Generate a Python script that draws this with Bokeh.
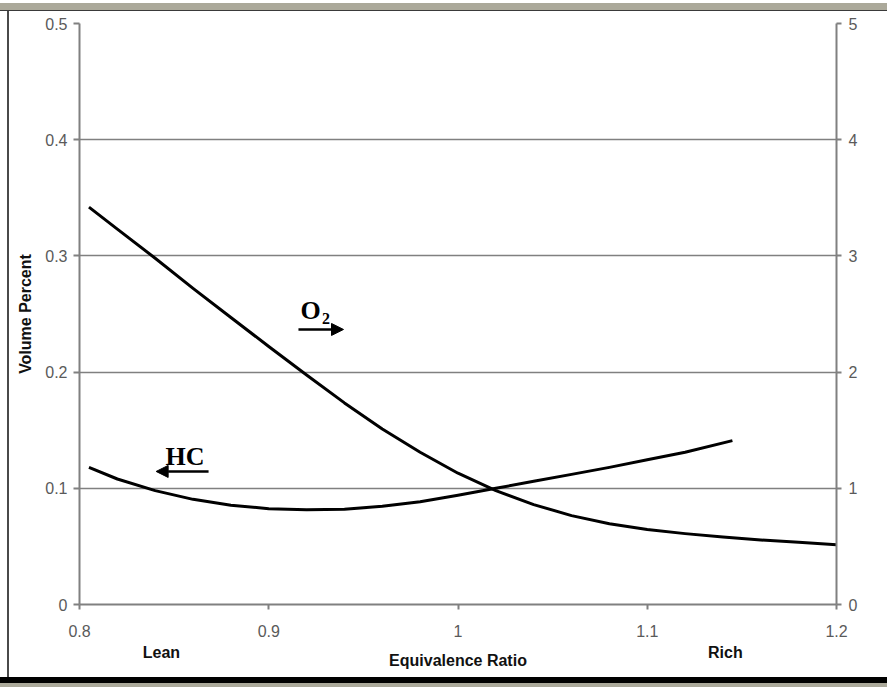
from bokeh.plotting import figure
from bokeh.models import (Range1d, LinearAxis, FixedTicker, Label, Arrow, NormalHead, Div)
from bokeh.layouts import column, row
from bokeh.embed import file_html
from bokeh.resources import INLINE

# ---- data ----
o2_ratio = [0.805, 0.82, 0.84, 0.86, 0.88, 0.90, 0.92, 0.94, 0.96, 0.98, 1.00,
            1.02, 1.04, 1.06, 1.08, 1.10, 1.12, 1.14, 1.16, 1.18, 1.20]
o2_pct = [3.42, 3.23, 2.98, 2.72, 2.47, 2.22, 1.975, 1.735, 1.51, 1.31, 1.13,
          0.98, 0.86, 0.765, 0.695, 0.645, 0.61, 0.58, 0.555, 0.535, 0.515]

hc_ratio = [0.805, 0.82, 0.84, 0.86, 0.88, 0.90, 0.92, 0.94, 0.96, 0.98, 1.00,
            1.02, 1.04, 1.06, 1.08, 1.10, 1.12, 1.145]
hc_pct = [0.118, 0.108, 0.098, 0.0905, 0.0855, 0.0825, 0.0815, 0.082, 0.0845, 0.0885,
          0.094, 0.100, 0.106, 0.112, 0.118, 0.1245, 0.131, 0.141]

x_ticks = [0.8, 0.9, 1.0, 1.1, 1.2]
x_tick_labels = ["0.8", "0.9", "1", "1.1", "1.2"]
y_ticks = [0, 0.1, 0.2, 0.3, 0.4, 0.5]
y_tick_labels = ["0", "0.1", "0.2", "0.3", "0.4", "0.5"]
y2_ticks = [0, 1, 2, 3, 4, 5]
y2_tick_labels = ["0", "1", "2", "3", "4", "5"]
side_pos = [0.8433, 1.1413]
side_labels = ["Lean", "Rich"]

W, H = 887, 687
OX, OY = 9, 11          # figure offset inside the window frame
FL, FR, FT, FB = 79, 836, 23, 604
PW, PH = W - OX, 677 - OY

p = figure(width=PW, height=PH, x_range=Range1d(0.8, 1.2), y_range=Range1d(0, 0.5),
           output_backend="svg", toolbar_location=None,
           min_border_left=FL - OX, min_border_right=W - FR,
           min_border_top=FT - OY, min_border_bottom=677 - FB)
p.extra_y_ranges = {"o2": Range1d(0, 5)}
p.background_fill_color = "white"
p.border_fill_color = "white"
p.outline_line_color = None

AX_COL = "#808080"
LBL_COL = "#5a5a5a"
FONT = "Liberation Sans"

xa = p.xaxis[0]
xa.ticker = FixedTicker(ticks=x_ticks)
xa.major_label_overrides = {t: l for t, l in zip(x_ticks, x_tick_labels)}
ya = p.yaxis[0]
ya.ticker = FixedTicker(ticks=y_ticks)
ya.major_label_overrides = {t: l for t, l in zip(y_ticks, y_tick_labels)}
ya.axis_label = "Volume Percent"
ra = LinearAxis(y_range_name="o2", ticker=FixedTicker(ticks=y2_ticks))
ra.major_label_overrides = {t: l for t, l in zip(y2_ticks, y2_tick_labels)}
p.add_layout(ra, "right")

for ax in (xa, ya, ra):
    ax.axis_line_color = AX_COL
    ax.axis_line_width = 2
    ax.major_tick_line_color = AX_COL
    ax.major_tick_line_width = 2
    ax.major_tick_in = 0
    ax.major_tick_out = 5
    ax.minor_tick_line_color = None
    ax.major_label_text_font = FONT
    ax.major_label_text_font_size = "16px"
    ax.major_label_text_color = LBL_COL
    ax.axis_label_text_font = FONT
    ax.axis_label_text_font_style = "bold"
    ax.axis_label_text_font_size = "16px"
    ax.axis_label_text_color = "#111111"
ya.major_tick_out = 6
ya.major_label_standoff = 6
ya.axis_label_standoff = 8
ra.major_label_standoff = 7
xa.major_label_standoff = 15

# second bottom axis carrying "Lean", "Rich" and the axis title
xb = LinearAxis(ticker=FixedTicker(ticks=side_pos))
xb.major_label_overrides = {t: l for t, l in zip(side_pos, side_labels)}
xb.axis_line_color = None
xb.major_tick_line_color = None
xb.minor_tick_line_color = None
xb.major_tick_in = 0
xb.major_tick_out = 0
xb.major_label_standoff = 4
xb.major_label_text_font = FONT
xb.major_label_text_font_style = "bold"
xb.major_label_text_font_size = "16px"
xb.major_label_text_color = "#111111"
xb.axis_label = "Equivalence Ratio"
xb.axis_label_standoff = -12
xb.axis_label_text_font = FONT
xb.axis_label_text_font_style = "bold"
xb.axis_label_text_font_size = "16px"
xb.axis_label_text_color = "#111111"
p.add_layout(xb, "below")

p.xgrid.grid_line_color = None
p.ygrid.ticker = FixedTicker(ticks=y_ticks[1:])
p.ygrid.grid_line_color = AX_COL
p.ygrid.grid_line_width = 1.5

# curves
p.line(hc_ratio, hc_pct, line_color="black", line_width=3, line_join="round")
p.line(o2_ratio, o2_pct, line_color="black", line_width=3, line_join="round",
       y_range_name="o2")

# curve annotations
SERIF = "Liberation Serif"
p.add_layout(Label(x=0.9168, y=0.253, text="O", text_font=SERIF, text_font_style="bold",
                   text_font_size="26px", text_color="black", text_baseline="alphabetic"))
p.add_layout(Label(x=0.9282, y=0.246, text="2", text_font=SERIF, text_font_style="bold",
                   text_font_size="16px", text_color="black", text_baseline="alphabetic"))
p.add_layout(Arrow(x_start=0.9157, y_start=0.2367, x_end=0.9395, y_end=0.2367,
                   line_color="black", line_width=2.5,
                   end=NormalHead(size=12, fill_color="black", line_color="black")))
p.add_layout(Label(x=0.8455, y=0.1277, text="HC", text_font=SERIF, text_font_style="bold",
                   text_font_size="26px", text_color="black", text_baseline="alphabetic"))
p.add_layout(Arrow(x_start=0.8682, y_start=0.1145, x_end=0.8405, y_end=0.1145,
                   line_color="black", line_width=2.5,
                   end=NormalHead(size=12, fill_color="black", line_color="black")))

# window frame around the chart
top_bar = Div(text="", width=W, height=OY, margin=0, styles={
    "background": "linear-gradient(to bottom, #ffffff 0px, #ffffff 3px, #aba99a 3px, "
                  "#aba99a 10px, #3a3a3a 10px, #3a3a3a 11px)"})
left_bar = Div(text="", width=OX, height=PH, margin=0, styles={
    "background": "linear-gradient(to right, #ffffff 0px, #ffffff 7px, #4a4a4a 7px, "
                  "#4a4a4a 9px)"})
bottom_bar = Div(text="", width=W, height=H - 677, margin=0, styles={
    "background": "linear-gradient(to bottom, #000000 0px, #000000 6px, #aba99a 6px, "
                  "#aba99a 10px)"})

layout = column(top_bar, row(left_bar, p, spacing=0), bottom_bar, spacing=0)

open("out.html", "w").write(file_html(layout, INLINE))
